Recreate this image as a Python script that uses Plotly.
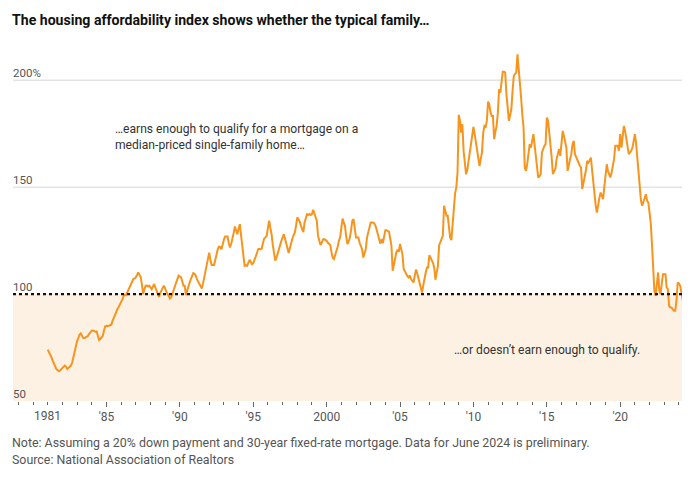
import plotly.graph_objects as go

# Monthly housing affordability index, Jan 1981 - Jun 2024
hai_by_year = {
    1981: [74, 73, 72, 70.5, 69, 67.5, 66, 65, 64.5, 64, 64.2, 65],
    1982: [65.5, 66, 66.5, 66, 65, 65.5, 66, 66.5, 68, 70.5, 73, 76],
    1983: [78, 79.5, 81, 81.6, 80.5, 79.5, 79.4, 79.8, 80.2, 80.5, 81.5, 82.5],
    1984: [82.9, 83, 82.5, 82.4, 82.5, 80.5, 78.5, 79, 80, 80.5, 83, 85],
    1985: [85.2, 85, 85.2, 85.5, 85.7, 87.5, 89, 90, 91.5, 93, 94, 95],
    1986: [96.1, 97.5, 99, 99.7, 99.5, 100.7, 102, 103.5, 104.7, 106, 107, 107.3],
    1987: [107.8, 109, 110.1, 109, 108, 104.5, 100, 102, 103.9, 104, 103.5, 103.9],
    1988: [103, 102.3, 103.5, 104.7, 103, 101.5, 99.5, 98.7, 100.5, 102.3, 103, 103.9],
    1989: [102, 101, 100, 99, 97.9, 98.5, 100.5, 102.3, 103.5, 105.4, 107, 108.6],
    1990: [108.2, 107.8, 106, 103.9, 103.9, 99.5, 101.5, 104, 105.4, 107, 108.5, 109.8],
    1991: [109.5, 108.6, 107, 106, 104.7, 103.5, 102.6, 105, 108, 110.9, 114, 117],
    1992: [119.4, 116, 113.6, 113.6, 113.6, 116, 119.4, 121, 122.2, 122, 121, 123.5],
    1993: [125.5, 126.9, 127, 126.9, 124, 121.8, 123.5, 125.7, 128.5, 131.6, 130, 128],
    1994: [130.5, 132.7, 128, 124.1, 118, 113.2, 113.5, 113.2, 115, 116, 115, 114],
    1995: [114.5, 116, 117.1, 119, 121, 121.2, 121, 121.3, 124, 126, 126.5, 127.2],
    1996: [131, 134.3, 131, 128, 123, 118, 115.6, 117, 118.7, 121, 123, 124.9],
    1997: [126.5, 128, 126, 124.1, 121.5, 119.2, 121.5, 124.1, 126, 127.5, 128.8, 132],
    1998: [135.8, 135, 134, 132, 130, 129, 133.5, 135.5, 137.4, 137, 137.4, 137],
    1999: [137.4, 139.4, 138, 136, 134.3, 127.2, 125, 122.9, 124, 125.5, 125.7, 125.3],
    2000: [124.9, 124, 123.5, 122.9, 119.5, 117, 116.4, 118, 120.2, 122, 124.9, 126.4],
    2001: [131, 135.3, 133.5, 131.9, 127, 123.4, 124.5, 126.4, 130, 134.3, 135, 130],
    2002: [126.4, 126.4, 126.4, 124, 122, 121, 117.1, 119, 121, 126.4, 128.8, 131],
    2003: [133.5, 133.5, 133.5, 133, 131.9, 130, 127.2, 125.5, 123.6, 125.7, 123.8, 127],
    2004: [129.9, 129.9, 129.5, 129.1, 126, 122.6, 110.9, 114, 117.9, 119.5, 120.7, 119.8],
    2005: [123.4, 121, 118.7, 111.7, 110.5, 109.3, 108.5, 107.8, 108.6, 107, 106.2, 105.4],
    2006: [108.5, 111.4, 110, 107.8, 105.5, 103.9, 100.7, 104, 107.8, 110, 112.4, 112.4],
    2007: [118.2, 117, 116.4, 114.5, 112.4, 106.7, 110, 113.2, 122.9, 124.5, 126, 127.2],
    2008: [141.3, 138, 136.6, 136.6, 131, 126.4, 125.2, 134, 142.8, 147, 150, 156.8],
    2009: [183.8, 181, 175.5, 179.4, 167, 161, 156.1, 158, 162, 167.8, 170.1, 174],
    2010: [178.2, 174.8, 171, 168.5, 163, 159.9, 163, 166.2, 175.5, 178.6, 178.2, 181],
    2011: [190, 188.5, 185, 183.3, 183.3, 172.4, 176, 178.6, 184.9, 195.8, 194.2, 199],
    2012: [204, 204, 203.6, 193.5, 187, 181, 183.5, 186.4, 195, 202, 203, 203.6],
    2013: [212.1, 205.9, 199, 191.9, 184, 177.9, 159.2, 157.6, 161, 165.4, 170.1, 168.5],
    2014: [171.5, 174.8, 170.1, 165, 160.7, 154.5, 155, 156.1, 166.2, 168, 169.3, 170.1],
    2015: [182.5, 181, 176, 171.6, 164, 156.1, 157.6, 158.5, 163, 165.5, 167.8, 164.6],
    2016: [170, 176.3, 174, 171, 168.5, 157.6, 161, 163, 165.4, 170, 171.6, 165.4],
    2017: [164, 162.3, 161, 160, 159.2, 149.1, 152, 154.5, 158, 162.3, 161.5, 162.5],
    2018: [163.8, 158, 152.9, 145.1, 141.5, 138.1, 142.1, 145, 147.5, 146, 144.4, 150],
    2019: [156.1, 160.7, 157.6, 156, 154.5, 156.8, 160, 163.1, 169.3, 169.3, 169.3, 167],
    2020: [174.8, 168.5, 173, 178.6, 176.3, 173, 170.1, 165.4, 166.2, 167, 168.5, 172],
    2021: [174.8, 170.1, 163, 157.6, 148.3, 143.6, 141.3, 143, 145.1, 146.7, 143.6, 142.8],
    2022: [138, 132.7, 123.4, 110.9, 101.5, 99.2, 104.7, 110.1, 101.5, 100, 105, 109.3],
    2023: [109.3, 109.3, 103.1, 102.3, 94.5, 93.7, 93.7, 93.0, 92.2, 92.2, 96.9, 105.4],
    2024: [105, 103.9, 100.7, 97, 94.5, 93.7],
}

dates = []
values = []
for yr, vals in hai_by_year.items():
    for m, v in enumerate(vals):
        dates.append(f"{yr}-{m + 1:02d}-01")
        values.append(v)

y_ticks = [50, 100, 150, 200]
y_tick_text = ["50", "100", "150", "200%"]
x_ticks = ["1985-01-01", "1990-01-01", "1995-01-01", "2000-01-01", "2005-01-01",
           "2010-01-01", "2015-01-01", "2020-01-01"]
x_tick_text = ["'85", "'90", "'95", "2000", "'05", "'10", "'15", "'20"]

FONT = "Roboto, sans-serif"
ORANGE = "#f7941d"

fig = go.Figure()
fig.add_trace(go.Scatter(
    x=dates, y=values, mode="lines",
    line=dict(color=ORANGE, width=2), hoverinfo="skip", showlegend=False,
))

# shaded area below 100
fig.add_shape(type="rect", xref="paper", yref="y", x0=0, x1=1, y0=50, y1=100,
              fillcolor="#fdf1e4", line_width=0, layer="below")
# gridlines
for g in [150, 200]:
    fig.add_shape(type="line", xref="paper", yref="y", x0=0, x1=1, y0=g, y1=g,
                  line=dict(color="#e3e3e3", width=1.5), layer="below")
# dotted 100 line
fig.add_shape(type="line", xref="paper", yref="y", x0=0, x1=1, y0=100, y1=100,
              line=dict(color="#111111", width=2.2, dash="dot"), layer="above")

# y tick labels (sitting above gridlines)
for v, t in zip(y_ticks, y_tick_text):
    fig.add_annotation(x=0, xref="paper", y=v, yref="y", text=t, showarrow=False,
                       xanchor="left", yanchor="bottom", yshift=-2, xshift=-2,
                       font=dict(family=FONT, size=11.5, color="#555555"))

fig.add_annotation(x="1981-01-01", xref="x", y=-0.043, yref="paper", text="1981",
                   showarrow=False, xanchor="center", yanchor="middle",
                   font=dict(family=FONT, size=12, color="#555555"))

fig.add_annotation(x=0.148, xref="paper", y=173.5, yref="y",
                   text="…earns enough to qualify for a mortgage on a<br>median-priced single-family home…",
                   showarrow=False, xanchor="left", yanchor="middle", align="left",
                   font=dict(family=FONT, size=12.1, color="#333333"))
fig.add_annotation(x=0.650, xref="paper", y=74, yref="y",
                   text="…or doesn’t earn enough to qualify.",
                   showarrow=False, xanchor="left", yanchor="middle", align="left",
                   font=dict(family=FONT, size=12.1, color="#333333"))

fig.add_annotation(x=0, xref="paper", y=1.0724, yref="paper",
                   text="<b>The housing affordability index shows whether the typical family…</b>",
                   showarrow=False, xanchor="left", yanchor="middle", xshift=-3,
                   font=dict(family=FONT, size=14.1, color="#111111"))
fig.add_annotation(x=0, xref="paper", y=-0.1163, yref="paper",
                   text="Note: Assuming a 20% down payment and 30-year fixed-rate mortgage. Data for June 2024 is preliminary.",
                   showarrow=False, xanchor="left", yanchor="middle", xshift=-3,
                   font=dict(family=FONT, size=12.4, color="#555555"))
fig.add_annotation(x=0, xref="paper", y=-0.164, yref="paper",
                   text="Source: National Association of Realtors",
                   showarrow=False, xanchor="left", yanchor="middle", xshift=-3,
                   font=dict(family=FONT, size=12.4, color="#555555"))

fig.update_layout(
    width=690, height=478,
    margin=dict(l=5, r=10, t=37.8, b=85.3),
    paper_bgcolor="white", plot_bgcolor="white",
    font=dict(family=FONT, size=12, color="#555555"),
    xaxis=dict(
        type="date", range=["1978-08-20", "2024-08-14"],
        tickvals=x_ticks, ticktext=x_tick_text,
        ticks="outside", ticklen=5, tickcolor="#666666", tickwidth=1,
        showgrid=False, zeroline=False, showline=False,
        tickfont=dict(family=FONT, size=12, color="#555555"),
        minor=dict(dtick="M12", tick0="1981-01-01", ticks="outside", ticklen=3,
                   tickcolor="#666666", tickwidth=1, showgrid=False),
    ),
    yaxis=dict(range=[50, 216], showticklabels=False, showgrid=False,
               zeroline=False, showline=False, ticks=""),
)

fig.write_html("out.html")
